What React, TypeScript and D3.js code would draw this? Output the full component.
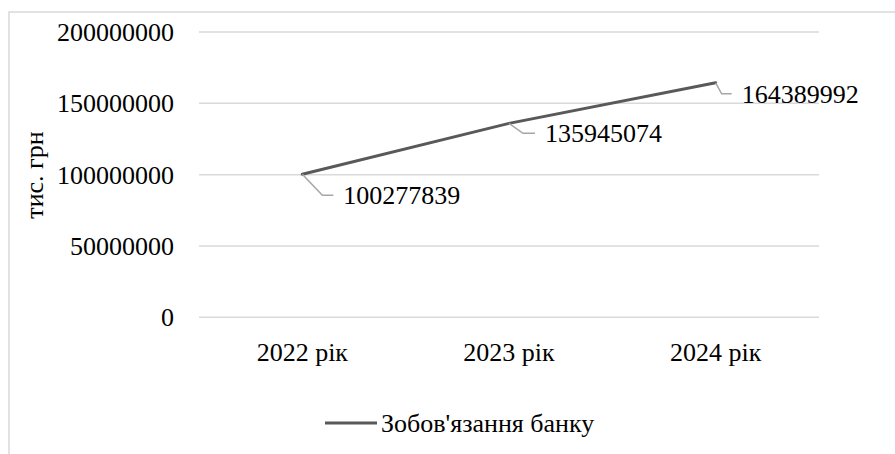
import React from "react";
import * as d3 from "d3";

const categories = ["2022 рік", "2023 рік", "2024 рік"];
const values = [100277839, 135945074, 164389992];
const yTicks = [0, 50000000, 100000000, 150000000, 200000000];
const seriesName = "Зобов'язання банку";
const yTitle = "тис. грн";

export default function App() {
  const W = 895, H = 454;
  const left = 199, right = 819, top = 32, bottom = 317.3;
  const x = d3.scaleBand<string>().domain(categories).range([left, right]);
  const y = d3.scaleLinear().domain([0, 200000000]).range([bottom, top]);
  const line = d3
    .line<number>()
    .x((_, i) => (x(categories[i]) as number) + x.bandwidth() / 2)
    .y((d) => y(d));
  const fs = 26;
  const ts: React.CSSProperties = {
    fontFamily: "'Liberation Serif', serif",
    fontSize: fs,
  };
  const labelOffsets = [
    { dx: 20, dy: 21, hx: 31 },
    { dx: 14, dy: 10, hx: 26 },
    { dx: 6, dy: 11, hx: 16 },
  ];
  return (
    <svg
      width={W}
      height={H}
      style={{ position: "absolute", left: 0, top: 0, background: "#fff" }}
    >
      <rect x={9} y={12} width={W} height={H} fill="#fff" stroke="#d9d9d9" strokeWidth={1.5} />
      {yTicks.map((t) => (
        <g key={t}>
          <line x1={left} x2={right} y1={y(t)} y2={y(t)} stroke="#d9d9d9" strokeWidth={1.5} />
          <text x={174} y={y(t)} dy="0.35em" textAnchor="end" style={ts} fill="#000">
            {t}
          </text>
        </g>
      ))}
      <text
        transform={`translate(43,175) rotate(-90)`}
        textAnchor="middle"
        style={ts}
        fill="#000"
      >
        {yTitle}
      </text>
      {categories.map((c) => (
        <text
          key={c}
          x={(x(c) as number) + x.bandwidth() / 2}
          y={352}
          dy="0.35em"
          textAnchor="middle"
          style={ts}
          fill="#000"
        >
          {c}
        </text>
      ))}
      <path d={line(values) || ""} fill="none" stroke="#595959" strokeWidth={3} strokeLinecap="round" />
      {values.map((v, i) => {
        const px = (x(categories[i]) as number) + x.bandwidth() / 2;
        const py = y(v);
        const o = labelOffsets[i];
        return (
          <g key={i}>
            <polyline
              points={`${px},${py} ${px + o.dx},${py + o.dy} ${px + o.hx},${py + o.dy}`}
              fill="none"
              stroke="#a6a6a6"
              strokeWidth={1.5}
            />
            <text x={px + o.hx + 10} y={py + o.dy} dy="0.35em" style={ts} fill="#000">
              {v}
            </text>
          </g>
        );
      })}
      <line x1={325} x2={377} y1={423} y2={423} stroke="#595959" strokeWidth={3} />
      <text x={381} y={423} dy="0.35em" style={ts} fill="#000">
        {seriesName}
      </text>
    </svg>
  );
}
